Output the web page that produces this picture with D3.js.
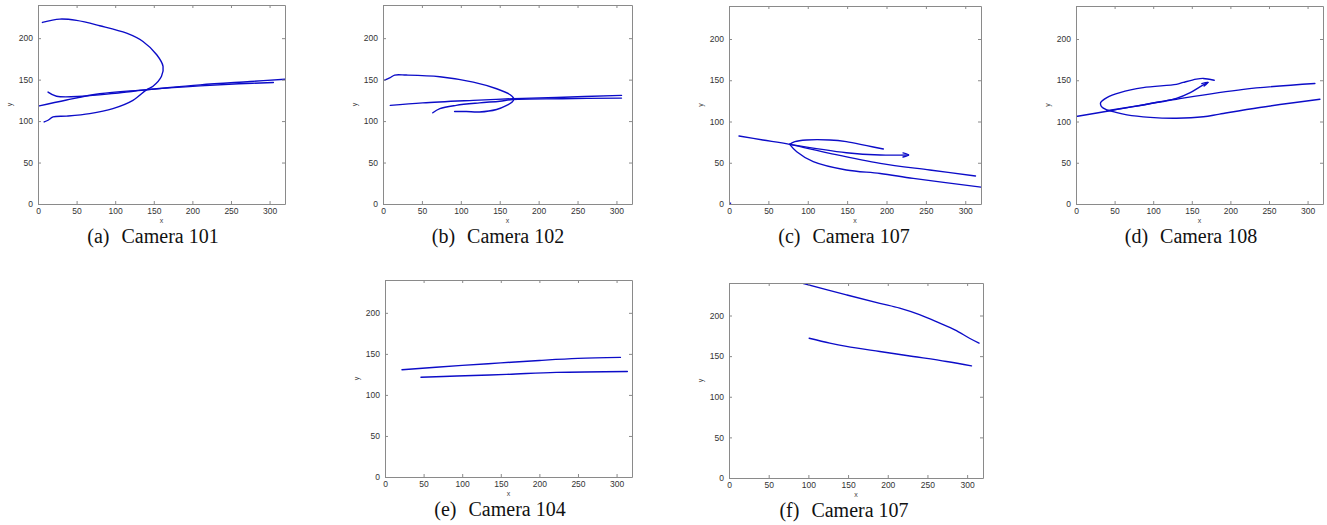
<!DOCTYPE html>
<html>
<head>
<meta charset="utf-8">
<script src="https://cdn.jsdelivr.net/npm/d3@7"></script>
<style>
  body { margin: 0; background: #fff; }
  .tick text { font-family: Arial, "Liberation Sans", sans-serif; font-size: 8.5px; fill: #333; }
  .tick line, .domain { stroke: #8a8a8a; }
  .cap { font-family: "Liberation Serif", "Times New Roman", serif; font-size: 20px; fill: #111; }
  .lab { font-family: Arial, "Liberation Sans", sans-serif; font-size: 7px; fill: #444; }
</style>
</head>
<body>
<div class="canva"></div>
<script>
const xTicks = [0, 50, 100, 150, 200, 250, 300]
const yTicks = [0, 50, 100, 150, 200]
const xDomain = [0, 320]
const yDomain = [0, 240]

const labels = ["(a)", "(b)", "(c)", "(d)", "(e)", "(f)"]
const cameras = ["Camera 101", "Camera 102", "Camera 107", "Camera 108", "Camera 104", "Camera 107"]

// trajectories, one list of tracks per camera, [x, y] in image coords
const cam101 = [
    [[5.7, 219], [28.2, 223], [49.9, 221.4], [80, 215], [114.8, 206], [136, 196], [153.8, 180], [162, 166], [160, 154],
     [149, 142], [141, 138], [123, 125], [97, 115], [67, 109], [37, 106], [19.5, 105], [13, 101], [8, 99]],
    [[0, 118], [37, 125.5], [80, 133], [141, 138], [210, 143.7], [275, 147.7], [320, 150.5]],
    [[13, 135], [24, 130], [58, 130], [100, 133.5], [150, 138.5], [210, 142.5], [260, 145], [305, 146.5]]
]
const cam102 = [
    [[2, 149.5], [8.6, 152], [15, 155.5], [30, 155.5], [73, 153.5], [116, 147], [146, 139], [163, 132], [168, 127],
     [166, 123], [159, 119], [146, 114], [124, 111], [107, 111.5], [92, 111.5]],
    [[9.4, 119], [51, 122], [116, 125], [167, 127], [223, 128.5], [306.5, 131]],
    [[64, 110], [73, 115], [94, 119], [124, 122], [150, 124], [167, 126], [230, 127], [306.5, 127.7]]
]
const cam107a = [
    [[12.7, 82.4], [43, 77.6], [77, 72.3], [128, 61.4], [192, 49.3], [255, 41.2], [313, 34]],
    [[77, 72.3], [86, 63.4], [107, 51.3], [149, 41.2], [192, 37], [234, 31], [320, 20.4]],
    [[77, 72.3], [83.6, 75.6], [98.4, 77.6], [128, 77.6], [149, 75.6], [175, 70.7], [196, 66.7]],
    [[77, 72.3], [149, 62.2], [192, 59.4], [228, 59.4]],
    [[221, 62], [228, 59.5], [221, 57]],
    [[0, 0], [2, 1]]
]
const cam108 = [
    [[0, 106], [44, 113], [130, 127], [217, 139], [309.5, 146]],
    [[179, 150], [165, 152.2], [156, 151.4], [139, 147.4], [130, 145], [87, 141], [57, 135], [40, 129], [32, 123],
     [33, 118], [40, 114], [48, 112], [66, 108], [96, 105], [130, 104], [165, 105.7], [186, 109], [238, 117], [316, 127]],
    [[40, 113], [79, 119], [109, 124], [130, 128], [148, 135], [160.5, 142], [171, 147.4]],
    [[163, 146], [171, 147.4], [166, 143]]
]
const cam104 = [
    [[22, 130.6], [100, 136], [150, 139], [200, 142], [250, 144.5], [305, 145.7]],
    [[46.6, 121.6], [93, 123], [157.5, 125], [222, 127.5], [314, 128.6]]
]
const cam107b = [
    [[94, 239.3], [148, 225.4], [190, 215], [215, 209], [240, 201], [265.5, 190.6], [284.5, 182.4], [303, 172], [315, 166]],
    [[101, 172], [127, 166], [148, 162], [190, 155.7], [232, 149.6], [274, 143.4], [305.5, 138]]
]
const tracks = [cam101, cam102, cam107a, cam108, cam104, cam107b]

// plot boxes on the page
const boxes = [
    { left: 38, top: 5, w: 247, h: 199 },
    { left: 383, top: 5, w: 249, h: 199 },
    { left: 729, top: 6, w: 252, h: 198 },
    { left: 1076, top: 6, w: 247, h: 198 },
    { left: 385, top: 280, w: 247, h: 197 },
    { left: 729, top: 283, w: 254, h: 195 }
]

const svg = d3.select(".canva").append("svg")
    .attr("width", 1327)
    .attr("height", 525)

boxes.forEach((b, i) => {
    const g = svg.append("g")
    const x = d3.scaleLinear().domain(xDomain).range([b.left, b.left + b.w])
    const y = d3.scaleLinear().domain(yDomain).range([b.top + b.h, b.top])

    g.append("clipPath").attr("id", "clip" + i)
        .append("rect")
        .attr("x", b.left).attr("y", b.top).attr("width", b.w).attr("height", b.h)

    const line = d3.line()
        .x(d => x(d[0]))
        .y(d => y(d[1]))
        .curve(d3.curveCatmullRom.alpha(0.5))

    g.append("g").attr("clip-path", `url(#clip${i})`)
        .selectAll("path")
        .data(tracks[i])
        .enter().append("path")
        .attr("d", line)
        .attr("fill", "none")
        .attr("stroke", "#0c0cc8")
        .attr("stroke-width", 1.4)
        .attr("stroke-linejoin", "round")
        .attr("stroke-linecap", "round")

    g.append("g").attr("transform", `translate(0,${b.top + b.h})`)
        .call(d3.axisBottom(x).tickValues(xTicks).tickSizeInner(-3).tickSizeOuter(0).tickPadding(4))
    g.append("g").attr("transform", `translate(0,${b.top})`)
        .call(d3.axisTop(x).tickValues(xTicks).tickSizeInner(-3).tickSizeOuter(0).tickFormat(""))
    g.append("g").attr("transform", `translate(${b.left},0)`)
        .call(d3.axisLeft(y).tickValues(yTicks).tickSizeInner(-3).tickSizeOuter(0).tickPadding(5))
    g.append("g").attr("transform", `translate(${b.left + b.w},0)`)
        .call(d3.axisRight(y).tickValues(yTicks).tickSizeInner(-3).tickSizeOuter(0).tickFormat(""))

    g.append("text").attr("class", "lab")
        .attr("x", b.left + b.w / 2).attr("y", b.top + b.h + 19)
        .attr("text-anchor", "middle")
        .text("x")
    g.append("text").attr("class", "lab")
        .attr("transform", `translate(${b.left - 26},${b.top + b.h / 2}) rotate(-90)`)
        .attr("text-anchor", "middle")
        .text("y")

    const cap = g.append("text").attr("class", "cap")
        .attr("x", b.left + 115).attr("y", b.top + b.h + 39)
        .attr("text-anchor", "middle")
    cap.append("tspan").text(labels[i])
    cap.append("tspan").attr("dx", 12).text(cameras[i])
})
</script>
</body>
</html>
